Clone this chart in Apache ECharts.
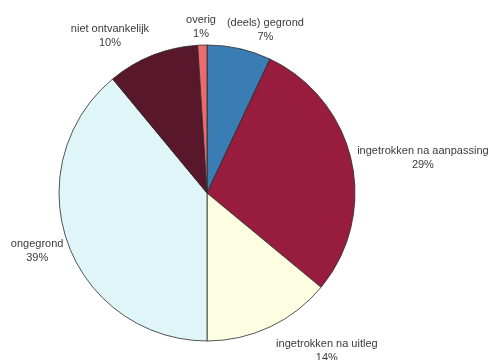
<!DOCTYPE html>
<html><head><meta charset="utf-8">
<script src="https://cdn.jsdelivr.net/npm/echarts@6/dist/echarts.min.js"></script>
<style>html,body{margin:0;padding:0;background:#fff}#c{width:492px;height:360px}</style>
</head><body><div id="c"></div>
<script>
const categories = ['(deels) gegrond','ingetrokken na aanpassing','ingetrokken na uitleg','ongegrond','niet ontvankelijk','overig'];
const values = [7, 29, 14, 39, 10, 1];
const colors = ['#3a7db4','#981c3e','#fdfde2','#dff5f8','#58172a','#ee6b6b'];
// label nudges (px) relative to the library's outside label placement
const labelShiftX = [-20, -11, -4, 12, 6, 19];
const labelShiftY = [-7, 0, 13, 4, -8, -6];

const chart = echarts.init(document.getElementById('c'));
chart.setOption({
  animation: false,
  series: [{
    type: 'pie',
    center: [207, 193],
    radius: 148,
    startAngle: 90,
    clockwise: true,
    avoidLabelOverlap: false,
    data: categories.map((n, i) => ({ name: n, value: values[i], itemStyle: { color: colors[i] } })),
    itemStyle: { borderColor: '#2a2a2a', borderWidth: 0.8 },
    label: {
      show: true, position: 'outside',
      formatter: '{b}\n{d}%',
      fontFamily: 'Liberation Sans, Arial, sans-serif',
      fontSize: 11, lineHeight: 14, color: '#3a3a3a'
    },
    labelLine: { show: false, length: 12, length2: 0 },
    labelLayout: function (p) {
      const r = p.labelRect;
      return {
        x: r.x + r.width / 2 + labelShiftX[p.dataIndex],
        y: r.y + r.height / 2 + labelShiftY[p.dataIndex],
        align: 'center', verticalAlign: 'middle'
      };
    },
    emphasis: { disabled: true }
  }]
});
</script></body></html>
